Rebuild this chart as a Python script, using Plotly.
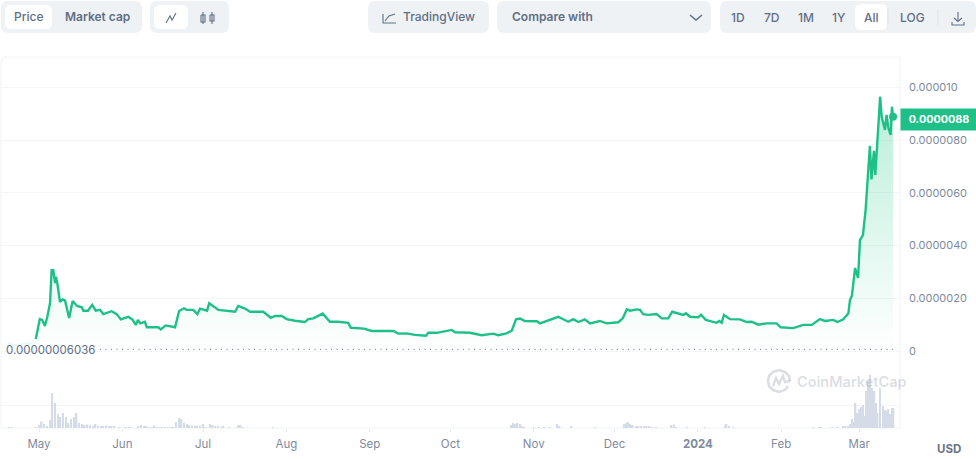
import pandas as pd
import plotly.graph_objects as go

W, H = 976, 459

# price, days counted from 2023-05-01, values in millionths of a dollar
price_days = [-1.2, -0.6, 0.3, 1.2, 2.2, 3.1, 4.1, 4.7, 5.3, 6, 6.3, 6.8, 7.8, 8.8, 9.7, 11.2, 12.5, 14.2, 15.9, 16.5,
              18.2, 19.8, 21.1, 22.7, 23.9, 27, 28.9, 30.4, 33.2, 34.7, 36, 36.8, 37.6, 39.4, 40.1, 44.4, 45.3, 47.1, 49, 50.6,
              52.1, 53.9, 54.9, 57.4, 58.9, 59.9, 62.5, 63.3, 66.7, 69.8, 72.9, 74.1, 76.6, 78.5,
              83.4, 86.2, 87.8, 90.3, 92.1, 95.2, 98.9, 100.1, 102, 105.5, 108.2, 111.3, 115, 116, 118.7, 120.9,
              123.7, 131.8, 133.6, 136.7, 139.8, 143.9, 144.8, 147.9, 153.5, 154.7, 160.3, 164.6, 168.9, 170.8, 173.9, 175.8,
              177.4, 178.9, 180.7, 185.1, 186.3, 189.7, 193.1, 196.8, 198.7, 200.6, 203, 204.9, 208.6, 211.1, 215.4,
              217.1, 218.6, 219.8, 222.3, 223.5, 224.7, 226.6, 229.7, 231.6, 234, 235.5, 239.6, 240.6, 242.1, 245.2, 246.2,
              248, 252, 253, 253.9, 254.7, 257, 260.7, 263.2, 265, 267.5, 270.6, 274.3, 275.8, 280.5, 284.2, 287.4,
              290.4, 292.3, 295.4, 296.9, 299.1, 301, 301.6, 302.3, 303.5, 304.6, 305.3, 306.4, 307.4, 309, 309.6, 310.5,
              311, 312.8, 313.4, 314.6, 315.2, 315.9, 316.7, 317.2, 317.6]
price_vals = [0.455, 0.73, 1.21, 1.18, 0.95, 1.30, 1.81, 3.07, 3.07, 2.58, 2.82, 2.58, 1.87, 1.96, 1.91, 1.25, 1.90, 1.71, 1.66, 1.53,
              1.53, 1.75, 1.53, 1.56, 1.40, 1.51, 1.40, 1.20, 1.30, 1.20, 0.99, 1.18, 1.05, 1.11, 0.90, 0.90, 0.82, 0.97, 0.92, 0.90,
              1.52, 1.62, 1.56, 1.56, 1.40, 1.61, 1.53, 1.81, 1.56, 1.52, 1.49, 1.71, 1.61, 1.49,
              1.49, 1.26, 1.33, 1.33, 1.21, 1.15, 1.10, 1.21, 1.24, 1.42, 1.11, 1.11, 1.07, 0.88, 0.85, 0.85,
              0.76, 0.76, 0.66, 0.67, 0.61, 0.58, 0.69, 0.69, 0.80, 0.71, 0.69, 0.60, 0.66, 0.60, 0.67, 0.77,
              1.20, 1.23, 1.14, 1.13, 1.05, 1.18, 1.30, 1.11, 1.21, 1.10, 1.20, 1.05, 1.14, 1.05, 1.09,
              1.24, 1.58, 1.53, 1.58, 1.56, 1.40, 1.37, 1.40, 1.24, 1.24, 1.49, 1.37, 1.43, 1.30, 1.28, 1.38,
              1.18, 1.07, 1.14, 1.07, 1.37, 1.21, 1.20, 1.10, 1.11, 1.00, 1.05, 1.05, 0.90, 0.87, 0.99, 0.99,
              1.21, 1.14, 1.18, 1.10, 1.20, 1.43, 1.94, 2.09, 3.15, 2.77, 4.21, 4.40, 5.35, 7.79, 6.51, 7.60,
              6.68, 9.65, 8.89, 8.39, 8.96, 8.45, 8.20, 9.27, 8.89]

# barely visible stretch before the main line starts
early_days = [-12.3, -11, -9.3, -5.2, -1.5]
early_vals = [0.04, 0.30, 0.23, 0.27, 0.34]

# volume bars, relative height
vol_days = [-11, -10, -1, 0, 1, 2, 3, 4.3, 5, 6, 7, 8, 9, 10, 11, 12, 13, 14, 15, 16, 17, 18, 19, 20, 21, 22, 23, 24, 25, 26, 27, 28,
            30, 32, 33, 34, 37, 38, 39, 40, 41, 42, 43, 44, 45, 46, 47, 48, 49, 50, 51, 52, 53, 54, 55, 56, 57, 58, 59, 60, 61, 62,
            63.6, 64.6, 65.6, 66.6, 67.6, 68.6, 70.7, 74, 75, 76, 87,
            175.8, 176.4, 177.2, 178, 178.9, 179.6, 180.4, 184, 186, 188, 190, 192.8, 193.6, 198, 207,
            217.6, 218.3, 219.2, 219.8, 220.8, 222, 223, 224, 225, 226, 227, 228, 229.7, 235.3, 236.2, 237, 240.9, 247.7, 255.1, 255.7, 256.6, 258,
            288, 290, 291, 295, 297, 299, 300, 301, 301.6, 302.3, 302.9, 303.7, 304.4, 305, 305.6, 306.5, 307, 307.7, 308.4, 309.1, 309.8,
            310.7, 311.3, 311.9, 312.8, 313.8, 314.6, 315.2, 315.9, 316.7, 317.3, 317.8]
vol_vals = [1, 1, 1, 3, 6.5, 4, 2, 8, 35, 25, 14, 11, 15, 11, 5, 9, 11, 15, 5, 4, 3, 3.5, 3, 2, 4, 2.5, 2, 2, 2.5, 2, 2, 1.5,
            0.5, 1, 1, 1, 2, 3, 2, 1.5, 0.5, 1, 2.5, 1, 0.5, 1, 1, 1, 1, 1, 6, 10, 9, 5.5, 4, 3, 2.5, 2.5, 2, 2.5, 4, 1,
            4, 3, 1.5, 1.5, 1, 1.5, 1, 3, 3, 1, 1,
            3, 5, 4, 5, 4, 2, 1, 1, 1, 1, 1, 4, 1.5, 1.5, 1,
            4, 5, 6, 4, 3, 2, 2, 1.5, 1.5, 1.5, 1.5, 1, 1, 3, 3.5, 1, 1, 1, 2.5, 4, 1.5, 1,
            1, 1, 1, 1, 1, 1.5, 1.5, 1.5, 4, 9, 6, 25, 15, 19, 21, 23, 12, 37, 47, 53, 40,
            37, 25, 15, 40, 22, 18, 17, 19, 14, 20, 20]

min_price = 0.06036
min_line_days = [22.7, 317.6]

y_ticks = [0, 2, 4, 6, 8, 10]
y_labels = ["0", "0.0000020", "0.0000040", "0.0000060", "0.0000080", "0.000010"]
x_ticks = ["2023-05-01", "2023-06-01", "2023-07-01", "2023-08-01", "2023-09-01", "2023-10-01",
           "2023-11-01", "2023-12-01", "2024-01-01", "2024-02-01", "2024-03-01"]
x_labels = ["May", "Jun", "Jul", "Aug", "Sep", "Oct", "Nov", "Dec", "<b>2024</b>", "Feb", "Mar"]

start = pd.Timestamp("2023-05-01")


def to_dates(days):
    return [start + pd.Timedelta(days=d) for d in days]


def px(x):
    return x / W


def py(y):
    return 1 - y / H


GREEN = "#1fc088"
TICK = "#808a9d"
BTN = "#616e85"
PANEL = "#eff2f5"
GRID = "#f3f5f8"

fig = go.Figure()
fig.add_trace(go.Bar(x=to_dates(vol_days), y=vol_vals, yaxis="y2", width=0.55 * 86400000,
                     marker=dict(color="#d6dce7", line_width=0), hoverinfo="skip"))
fig.add_trace(go.Scatter(x=to_dates(early_days), y=early_vals, mode="lines",
                         line=dict(color="rgba(22,199,132,0.10)", width=2), hoverinfo="skip"))
fig.add_trace(go.Scatter(x=to_dates(price_days), y=price_vals, mode="lines", line=dict(color=GREEN, width=2.4),
                         fill="tozeroy",
                         fillgradient=dict(type="vertical",
                                           colorscale=[[0, "rgba(22,199,132,0)"], [1, "rgba(22,199,132,0.30)"]])))
fig.add_trace(go.Scatter(x=to_dates(min_line_days), y=[min_price, min_price], mode="lines",
                         line=dict(color="#808a9d", width=1.3, dash="1px 4.5px"), hoverinfo="skip"))
fig.add_trace(go.Scatter(x=to_dates(price_days[-1:]), y=price_vals[-1:], mode="markers",
                         marker=dict(color=GREEN, size=8)))

shapes = []


def round_rect(x0, y0, x1, y1, r, fill):
    a, b, c, d = px(x0), py(y0), px(x1), py(y1)
    rx, ry = r / W, r / H
    path = (f"M {a + rx} {b} L {c - rx} {b} Q {c} {b} {c} {b - ry} L {c} {d + ry} Q {c} {d} {c - rx} {d} "
            f"L {a + rx} {d} Q {a} {d} {a} {d + ry} L {a} {b - ry} Q {a} {b} {a + rx} {b} Z")
    shapes.append(dict(type="path", path=path, xref="paper", yref="paper", fillcolor=fill, line_width=0, layer="below"))


def stroke(points, color=BTN, width=1.1, layer="above"):
    path = "M " + " L ".join(f"{px(x)} {py(y)}" for x, y in points)
    shapes.append(dict(type="path", path=path, xref="paper", yref="paper",
                       line=dict(color=color, width=width), layer=layer))


# toolbar
round_rect(1, 1, 142, 33, 7, PANEL)
round_rect(5, 5, 52, 29, 6, "white")
round_rect(150, 1, 229, 33, 7, PANEL)
round_rect(154, 5, 188, 29, 6, "white")
round_rect(368, 1, 489, 33, 7, PANEL)
round_rect(497, 1, 711, 33, 7, PANEL)
round_rect(720, 1, 976, 33, 7, PANEL)
round_rect(855, 4, 887, 30, 6, "white")
stroke([(888, 9), (888, 25)], "#dde1e7", 1)
stroke([(938, 9), (938, 25)], "#dde1e7", 1)

stroke([(166, 23), (170, 16), (172, 20), (176, 13)])
stroke([(203, 12), (203, 24)])
stroke([(212, 12), (212, 24)])
round_rect(201, 15, 205, 22, 1, PANEL)
round_rect(210, 15, 214, 21, 1, PANEL)
stroke([(201, 15), (205, 15), (205, 22), (201, 22), (201, 15)])
stroke([(210, 15), (214, 15), (214, 21), (210, 21), (210, 15)])
stroke([(383, 14), (383, 23), (396, 23)])
stroke([(385, 21), (389, 16), (395, 14)])
stroke([(690, 15), (696, 20), (702, 15)], BTN, 1.5)
stroke([(958, 12), (958, 21)])
stroke([(954, 18), (958, 21.5), (962, 18)])
stroke([(952, 22), (952, 25), (964, 25), (964, 22)])

# chart frame, rounded at the top left
stroke([(1, 428), (1, 63), (2, 59), (6, 57), (900, 57), (900, 428), (1, 428)], "#eff2f5", 1, "below")

# watermark logo
WM = "rgba(128,138,157,0.28)"
stroke([(788, 386), (785, 390), (779, 392), (773, 390), (769, 386), (768, 381), (769, 376), (773, 372), (779, 370),
        (785, 372), (789, 376), (790, 381)], WM, 2.6)
stroke([(773, 386), (776, 378), (779, 384), (783, 376), (785, 382), (790, 381)], WM, 2.4)

texts = [("Price", 29, 17, 12, 500, BTN), ("Market cap", 97, 17, 12, 600, BTN), ("TradingView", 439, 17, 12, 500, BTN),
         ("Compare with", 552, 17, 12, 600, BTN), ("1D", 738, 18, 12, 500, BTN), ("7D", 772, 18, 12, 500, BTN),
         ("1M", 806, 18, 12, 500, BTN), ("1Y", 839, 18, 12, 500, BTN), ("All", 871, 18, 12, 500, BTN),
         ("LOG", 912, 18, 12, 500, BTN), ("USD", 949, 449, 11.5, 700, "#6a7487"),
         ("0.00000006036", 50, 350, 11.5, 400, BTN), ("CoinMarketCap", 852, 381, 14.5, 600, WM)]
annotations = [dict(text=t, x=px(x), y=py(y), xref="paper", yref="paper", showarrow=False, xanchor="center", yanchor="middle",
                    font=dict(family="Inter", size=s, weight=wt, color=c)) for t, x, y, s, wt, c in texts]
annotations.append(dict(text="<b>0.0000088</b>", x=px(900), y=8.8, xref="paper", yref="y", xanchor="left", yanchor="middle",
                        showarrow=False, bgcolor=GREEN, width=76, height=21, borderpad=0,
                        font=dict(family="Inter", size=10.8, color="white")))

# y value at a pixel row: 0 sits at 351 px, 10 sits at 87.5 px
y_scale = (351 - 87.5) / 10

fig.update_layout(
    width=W, height=H, autosize=False, margin=dict(l=0, r=0, t=0, b=0),
    paper_bgcolor="white", plot_bgcolor="rgba(0,0,0,0)", showlegend=False, barmode="overlay",
    font=dict(family="Inter", color=TICK, size=12),
    shapes=shapes, annotations=annotations,
    xaxis=dict(domain=[px(1), px(900)], anchor="y",
               range=[start + pd.Timedelta(days=(1 - 39) / 2.689), start + pd.Timedelta(days=(900 - 39) / 2.689)],
               tickmode="array", tickvals=x_ticks, ticktext=x_labels, ticks="outside", ticklen=3, tickcolor="#e6e9ee",
               tickfont=dict(family="Inter", size=11.5, color=TICK), showgrid=False, zeroline=False, showline=False,
               ticklabelstandoff=2),
    yaxis=dict(domain=[py(428), py(57)], side="right", anchor="x",
               range=[(351 - 428) / y_scale, (351 - 57) / y_scale],
               tickmode="array", tickvals=y_ticks, ticktext=y_labels, tickfont=dict(family="Inter", size=11, color=TICK),
               gridcolor=GRID, gridwidth=1, zeroline=False, showline=False, ticks="", ticklabelstandoff=8),
    yaxis2=dict(domain=[py(428), py(368)], anchor="x", range=[0, 60], tickmode="array", tickvals=[23],
                showticklabels=False, gridcolor=GRID, gridwidth=1, zeroline=False, showline=False, ticks=""),
)

# the page's default body margin would push the chart off the window
fig.write_html("out.html", config={"displayModeBar": False},
               post_script="document.body.style.margin='0';document.documentElement.style.overflow='hidden';")
